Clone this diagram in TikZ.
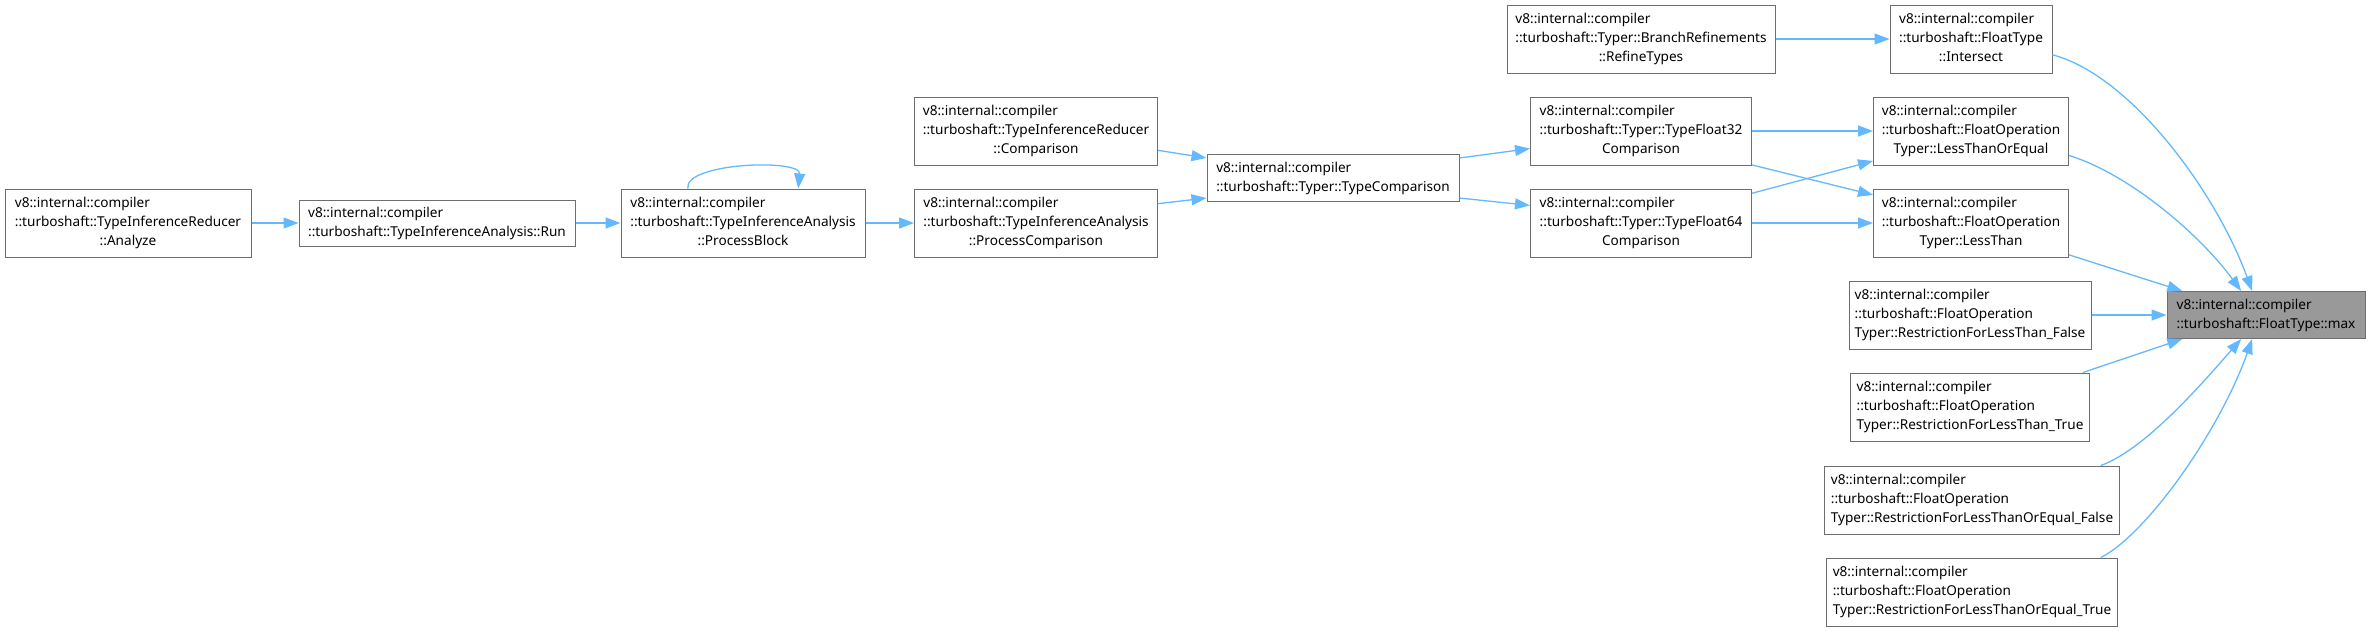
\documentclass[tikz,border=0pt]{standalone}
\usepackage{fontspec}
\setmainfont{Noto Sans}
\usepackage{xcolor}
\usepackage{tikz}
\usetikzlibrary{arrows.meta}

\definecolor{edgeblue}{HTML}{63B8FF}
\definecolor{boxline}{HTML}{6E6E6E}
\definecolor{focusfill}{HTML}{999999}

\newcommand{\fnthree}[2]{\begin{tabular}{@{}l@{}}v8::internal::compiler\\#1\\\multicolumn{1}{@{}c@{}}{#2}\end{tabular}}
\newcommand{\fntwo}[1]{\begin{tabular}{@{}l@{}}v8::internal::compiler\\#1\end{tabular}}

\tikzset{
  func/.style={draw=boxline, line width=1pt, fill=white, inner sep=0pt,
    minimum height=68pt, font=\fontsize{13.6}{19}\selectfont},
  edge/.style={draw=edgeblue, line width=1.3pt, -{Triangle[length=15pt,width=11pt]}}
}

\begin{document}
\begin{tikzpicture}[x=1pt, y=-1pt]
        \useasboundingbox (0,0) rectangle (2371,630);
        % Callers, left part
        \node[func, minimum width=246pt] (analyze) at (128,223) {\fnthree{::turboshaft::TypeInferenceReducer}{::Analyze}};
        \node[func, minimum width=276pt, minimum height=46pt] (run) at (437,223) {\fntwo{::turboshaft::TypeInferenceAnalysis::Run}};
        \node[func, minimum width=244pt] (pblock) at (743,223) {\fnthree{::turboshaft::TypeInferenceAnalysis}{::ProcessBlock}};
        \node[func, minimum width=243pt] (tircmp) at (1036,131) {\fnthree{::turboshaft::TypeInferenceReducer}{::Comparison}};
        \node[func, minimum width=243pt] (pcmp) at (1036,223) {\fnthree{::turboshaft::TypeInferenceAnalysis}{::ProcessComparison}};
        \node[func, minimum width=252pt, minimum height=47pt] (tcmp) at (1333,178) {\fntwo{::turboshaft::Typer::TypeComparison}};
        \node[func, minimum width=221pt] (tf32) at (1641,131) {\fnthree{::turboshaft::Typer::TypeFloat32}{Comparison}};
        \node[func, minimum width=221pt] (tf64) at (1641,223) {\fnthree{::turboshaft::Typer::TypeFloat64}{Comparison}};
        \node[func, minimum width=268pt] (refine) at (1641,39) {\fnthree{::turboshaft::Typer::BranchRefinements}{::RefineTypes}};
        % Direct callers
        \node[func, minimum width=162pt] (intersect) at (1971,39) {\fnthree{::turboshaft::FloatType}{::Intersect}};
        \node[func, minimum width=195pt] (ltoe) at (1971,131) {\fnthree{::turboshaft::FloatOperation}{Typer::LessThanOrEqual}};
        \node[func, minimum width=195pt] (lt) at (1971,223) {\fnthree{::turboshaft::FloatOperation}{Typer::LessThan}};
        \node[func, minimum width=242pt] (rltf) at (1970,315) {\fnthree{::turboshaft::FloatOperation}{Typer::RestrictionForLessThan\_False}};
        \node[func, minimum width=239pt] (rltt) at (1970,407) {\fnthree{::turboshaft::FloatOperation}{Typer::RestrictionForLessThan\_True}};
        \node[func, minimum width=295pt] (rltoef) at (1972,500) {\fnthree{::turboshaft::FloatOperation}{Typer::RestrictionForLessThanOrEqual\_False}};
        \node[func, minimum width=291pt] (rltoet) at (1972,592) {\fnthree{::turboshaft::FloatOperation}{Typer::RestrictionForLessThanOrEqual\_True}};
        % Focus
        \node[func, fill=focusfill, minimum width=198pt, minimum height=47pt] (fmax) at (2266,315) {\fntwo{::turboshaft::FloatType::max}};
        % Call edges
        \draw[edge] (analyze.east) -- (run.west);
        \draw[edge] (run.east) -- (pblock.west);
        \draw[edge] (pblock.148) .. controls +(-4,-26) and +(3,-30) .. (pblock.32);
        \draw[edge] (pblock.east) -- (pcmp.west);
        \draw[edge] (tircmp.-9) -- (tcmp.171);
        \draw[edge] (pcmp.9) -- (tcmp.-171);
        \draw[edge] (tcmp.9) -- (tf32.189);
        \draw[edge] (tcmp.-9) -- (tf64.171);
        \draw[edge] (tf32.east) -- (ltoe.west);
        \draw[edge] (tf32.-17) -- (lt.164);
        \draw[edge] (tf64.15) -- (ltoe.197);
        \draw[edge] (tf64.east) -- (lt.west);
        \draw[edge] (refine.east) -- (intersect.west);
        % Into max
        \draw[edge] (intersect.-11) .. controls +(77,20) and +(-37,-101) .. (fmax.120);
        \draw[edge] (ltoe.-14) .. controls +(61,19) and +(-41,-56) .. (fmax.136);
        \foreach \src/\a/\b in {lt/-18/164, rltf/0/180, rltt/17/196}
          \draw[edge] (\src.\a) -- (fmax.\b);
        \draw[edge] (rltoef.15.5) .. controls +(45,-16) and +(-36,41) .. (fmax.224);
        \draw[edge] (rltoet.15) .. controls +(46,-23) and +(-32,91) .. (fmax.240);
      \end{tikzpicture}
\end{document}
